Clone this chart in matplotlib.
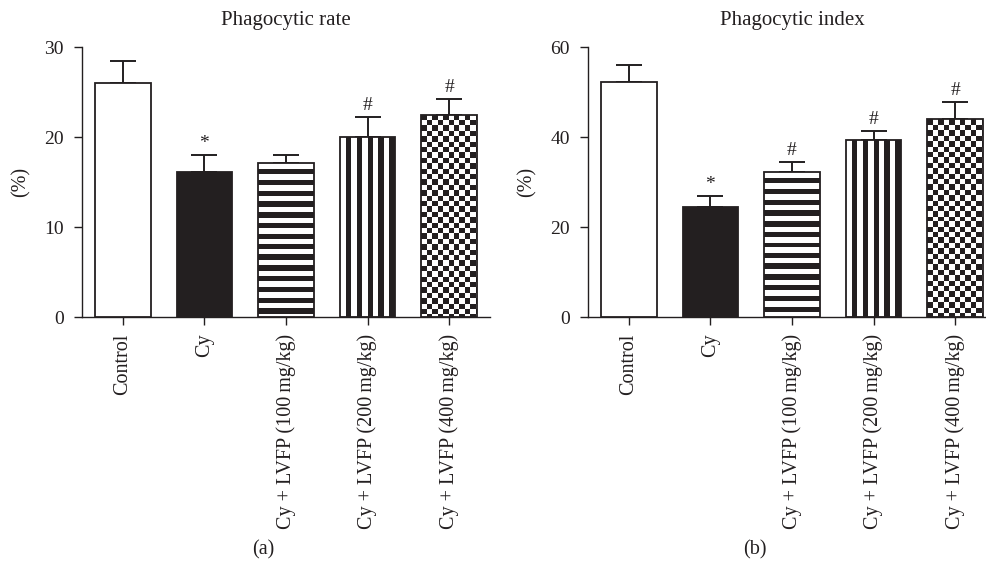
"""Phagocytic rate / index bars with stripe and checker fills"""

import numpy as np
import matplotlib.pyplot as plt
from matplotlib.colors import ListedColormap

plt.rcParams['font.family'] = ['Liberation Serif', 'DejaVu Serif']

ink = '#231f20'

groups = ['Control', 'Cy', 'Cy + LVFP (100\u2009mg/kg)',
          'Cy + LVFP (200\u2009mg/kg)', 'Cy + LVFP (400\u2009mg/kg)']
fills = ['open', 'solid', 'hstripe', 'vstripe', 'checker']

rate_mean = [26.0, 16.1, 17.1, 20.0, 22.5]
rate_sem = [2.4, 1.9, 0.85, 2.25, 1.75]
rate_mark = ['', '*', '', '#', '#']

index_mean = [52.2, 24.4, 32.2, 39.3, 43.9]
index_sem = [3.7, 2.5, 2.3, 2.0, 3.9]
index_mark = ['', '*', '#', '#', '#']

period = 10.8  # px, one black + one white band


def pattern(kind, w, h):
    rr, cc = np.mgrid[0:h, 0:w]
    if kind == 'hstripe':
        return ((rr % period) >= period * 0.5).astype(float)
    if kind == 'vstripe':
        return ((cc % period) >= period * 0.5).astype(float)
    cell = period / 2
    return (((rr // cell) + (cc // cell)) % 2 == 0).astype(float)


def panel(ax, means, sems, marks, ymax, step, title, letter, lx):
    x = np.arange(len(groups))
    ax.set_xlim(-0.5, len(groups) - 0.5)
    ax.set_ylim(0, ymax)
    ax.errorbar(x, means, yerr=[np.zeros(len(x)), sems], fmt='none',
                ecolor=ink, elinewidth=1.4, capsize=9.5, capthick=1.4, zorder=1)
    bars = ax.bar(x, means, width=0.68, color='white', edgecolor=ink,
                  linewidth=1.3, zorder=3)
    cmap = ListedColormap(['white', ink])
    for b, kind in zip(bars, fills):
        if kind == 'solid':
            b.set_facecolor(ink)
        elif kind != 'open':
            b.set_facecolor('none')
            x0, x1 = b.get_x(), b.get_x() + b.get_width()
            p0 = ax.transData.transform((x0, 0))
            p1 = ax.transData.transform((x1, b.get_height()))
            w = int(round(abs(p1[0] - p0[0]))) + 1
            h = int(round(abs(p1[1] - p0[1]))) + 1
            im = ax.imshow(pattern(kind, w, h), cmap=cmap, vmin=0, vmax=1,
                           extent=(x0, x1, 0, b.get_height()), aspect='auto',
                           interpolation='nearest', zorder=2)
            im.set_clip_path(b)
    ax.set_xlim(-0.5, len(groups) - 0.5)
    ax.set_ylim(0, ymax)
    for xi, m, s, t in zip(x, means, sems, marks):
        if t:
            ax.annotate(t, (xi, m + s), xytext=(0, 2), textcoords='offset points',
                        ha='center', va='bottom', fontsize=14, color=ink)

    ax.set_yticks(np.arange(0, ymax + 1, step))
    ax.set_xticks(x)
    ax.set_xticklabels(groups, rotation=90, fontsize=14.5, color=ink)
    ax.tick_params(axis='y', labelsize=14, colors=ink, length=6, width=1, pad=7)
    ax.tick_params(axis='x', colors=ink, length=6, width=1, pad=6)
    for s in ['top', 'right']:
        ax.spines[s].set_visible(False)
    for s in ['left', 'bottom']:
        ax.spines[s].set_color(ink)
        ax.spines[s].set_linewidth(1)
    ax.set_ylabel('(%)', fontsize=14.5, color=ink, labelpad=10)
    ax.set_title(title, fontsize=15, color=ink, pad=16)
    ax.figure.text(lx, 0.043, letter, ha='center', va='center', fontsize=14.5, color=ink)


fig = plt.figure(figsize=(9.87, 5.75), dpi=100)
ax1 = fig.add_axes([82 / 987, 258 / 575, 408 / 987, 270 / 575])
ax2 = fig.add_axes([588 / 987, 258 / 575, 408 / 987, 270 / 575])

panel(ax1, rate_mean, rate_sem, rate_mark, 30, 10, 'Phagocytic rate', '(a)', 263 / 987)
panel(ax2, index_mean, index_sem, index_mark, 60, 20, 'Phagocytic index', '(b)', 755 / 987)

plt.savefig('out.png', dpi=100)
